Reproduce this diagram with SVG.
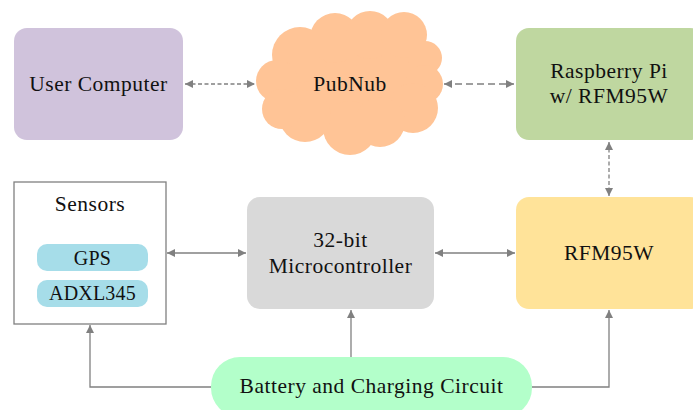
<svg xmlns="http://www.w3.org/2000/svg" width="693" height="410" viewBox="0 0 693 410">
<defs>
<style>
text{font-family:"Liberation Serif","DejaVu Serif",serif;font-size:21.5px;letter-spacing:0.5px;fill:#111;text-anchor:middle}
text.s{font-size:20px;letter-spacing:0.2px}
.c{fill:none;stroke:#808080;stroke-width:1.3}
.d1{stroke-dasharray:4 2.5}
.d2{stroke-dasharray:7 4}
</style>
<marker id="ah" viewBox="0 0 10 10" refX="10" refY="5" markerWidth="8" markerHeight="8" markerUnits="userSpaceOnUse" orient="auto-start-reverse">
<path d="M0,0 L10,5 L0,10 z" fill="#808080"/>
</marker>
</defs>
<rect width="693" height="410" fill="#fff"/>
<g id="connectors">
<line class="c d1" x1="185" y1="84" x2="255" y2="84" marker-start="url(#ah)" marker-end="url(#ah)"/>
<line class="c d2" x1="444" y1="84" x2="514" y2="84" marker-start="url(#ah)" marker-end="url(#ah)"/>
<line class="c d1" x1="609" y1="142" x2="609" y2="196" marker-start="url(#ah)" marker-end="url(#ah)"/>
<line class="c" x1="167" y1="253" x2="246" y2="253" marker-start="url(#ah)" marker-end="url(#ah)"/>
<line class="c" x1="435" y1="253" x2="515" y2="253" marker-start="url(#ah)" marker-end="url(#ah)"/>
<polyline class="c" points="212,387 90,387 90,325" marker-end="url(#ah)"/>
<line class="c" x1="351" y1="358" x2="351" y2="310" marker-end="url(#ah)"/>
<polyline class="c" points="531,387 609,387 609,310" marker-end="url(#ah)"/>
</g>
<g id="user-computer">
<rect x="14" y="28" width="169" height="112" rx="13" fill="#d0c3dc"/>
<text x="98.5" y="91">User Computer</text>
</g>
<g id="pubnub" fill="#ffc496">
<ellipse cx="350" cy="84" rx="75" ry="50"/>
<circle cx="300" cy="55" r="28"/>
<circle cx="335" cy="38" r="25"/>
<circle cx="370" cy="35" r="24"/>
<circle cx="404" cy="35" r="23"/>
<circle cx="425" cy="58" r="17"/>
<circle cx="424" cy="84" r="19"/>
<circle cx="413" cy="108" r="25"/>
<circle cx="350" cy="128" r="27"/>
<circle cx="305" cy="116" r="26"/>
<circle cx="277" cy="81" r="21"/>
<circle cx="282" cy="109" r="20"/>
<circle cx="380" cy="122" r="25"/>
<text x="350" y="91">PubNub</text>
</g>
<g id="raspberry-pi">
<rect x="516" y="28" width="187" height="112" rx="13" fill="#bfd7a0"/>
<text x="609" y="78">Raspberry Pi</text>
<text x="609" y="103">w/ RFM95W</text>
</g>
<g id="sensors">
<rect x="14" y="182" width="152" height="142" fill="#fff" stroke="#808080" stroke-width="1.3"/>
<text x="90" y="211">Sensors</text>
</g>
<g id="gps">
<rect x="37" y="244" width="111" height="27" rx="10" fill="#a6dde9"/>
<text class="s" x="92.5" y="265">GPS</text>
</g>
<g id="adxl345">
<rect x="37" y="280" width="111" height="27" rx="10" fill="#a6dde9"/>
<text class="s" x="92.5" y="300">ADXL345</text>
</g>
<g id="microcontroller">
<rect x="247" y="197" width="187" height="112" rx="13" fill="#d9d9d9"/>
<text x="340.5" y="247">32-bit</text>
<text x="340.5" y="273">Microcontroller</text>
</g>
<g id="rfm95w">
<rect x="516" y="197" width="187" height="112" rx="13" fill="#ffe399"/>
<text x="609" y="260">RFM95W</text>
</g>
<g id="battery">
<rect x="211" y="357" width="321" height="60" rx="29" fill="#b3ffca"/>
<text x="371.5" y="393">Battery and Charging Circuit</text>
</g>
</svg>
